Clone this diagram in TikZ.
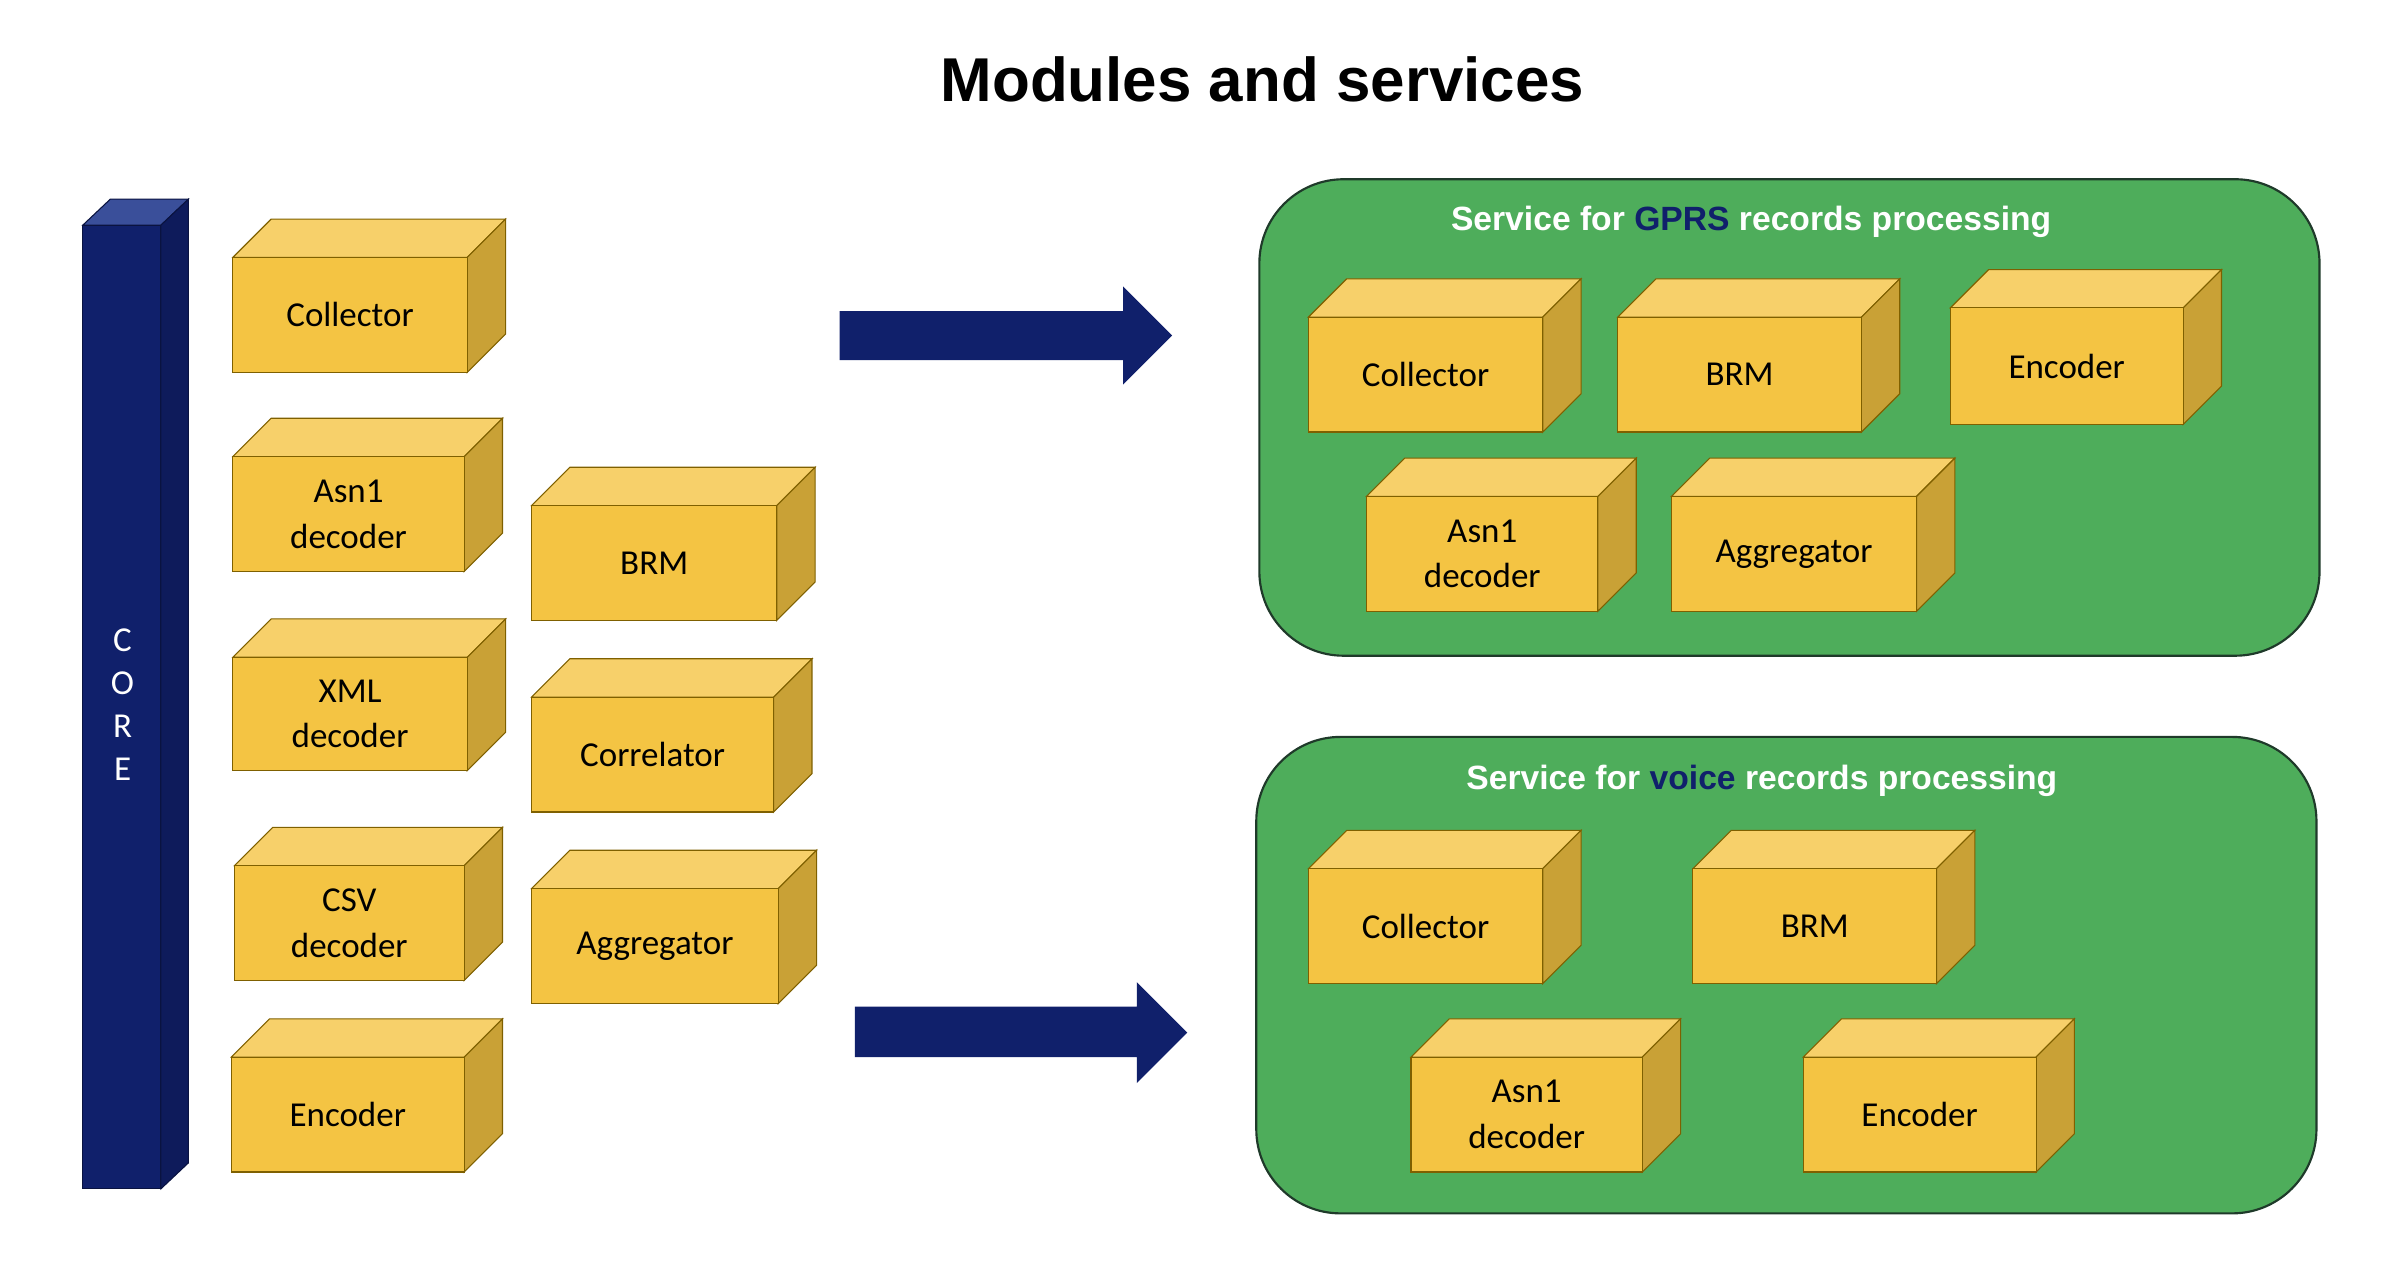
\documentclass[tikz,border=0pt]{standalone}
\usepackage{fontspec}
\setmainfont{Carlito}
\newfontfamily\titlefont{Liberation Sans}
\usetikzlibrary{positioning}
\definecolor{boxfront}{HTML}{F4C443}
\definecolor{boxtop}{HTML}{F7D06A}
\definecolor{boxside}{HTML}{C9A136}
\definecolor{boxline}{HTML}{7F6000}
\definecolor{panelgreen}{HTML}{4EAD5B}
\definecolor{panelline}{HTML}{1F3A2A}
\definecolor{navy}{HTML}{10206B}
\definecolor{navytop}{HTML}{3A4F9A}

% module box: name, x1, y1, x2, y2, text
\newcommand\modbox[6]{%
  \draw[boxline, fill=boxtop] (#2,#3) -- ({#2+25},{#3-25}) -- ({#4+25},{#3-25}) -- (#4,#3) -- cycle;
  \draw[boxline, fill=boxside] (#4,#3) -- ({#4+25},{#3-25}) -- ({#4+25},{#5-25}) -- (#4,#5) -- cycle;
  \draw[boxline, fill=boxfront] (#2,#3) rectangle (#4,#5);
  \node[label] (#1) at ({(#2+#4)/2},{(#3+#5)/2}) {#6};
}

\begin{document}
\begin{tikzpicture}[
    x=0.02cm, y=-0.02cm,
    label/.style={align=center, font=\fontsize{13}{17}\selectfont, inner sep=0pt},
    panel/.style={fill=panelgreen, draw=panelline, thick, rounded corners=1.1cm},
    paneltitle/.style={font=\titlefont\bfseries\fontsize{12.5}{15}\selectfont, text=white},
    blockarrow/.style={fill=navy}
  ]
  \useasboundingbox (0,0) rectangle (1560,834);

  % title
  \node[font=\titlefont\bfseries\fontsize{23}{28}\selectfont] (title) at (824,52) {Modules and services};

  % core pillar
  \draw[navy!60!black, fill=navytop] (54,147) -- (72,130) -- (123,130) -- (105,147) -- cycle;
  \draw[navy!60!black, fill=navy!85!black] (105,147) -- (123,130) -- (123,759) -- (105,776) -- cycle;
  \draw[navy!60!black, fill=navy] (54,147) rectangle (105,776);
  \node[label, text=white, font=\fontsize{13}{16}\selectfont] (core) at (80,460) {C\\O\\R\\E};

  % available modules
  \modbox{collector}{152}{168}{305}{243}{Collector}
  \modbox{asn}{152}{298}{303}{373}{Asn1\\decoder}
  \modbox{xml}{152}{429}{305}{503}{XML\\decoder}
  \modbox{csv}{153}{565}{303}{640}{CSV\\decoder}
  \modbox{encoder}{151}{690}{303}{765}{Encoder}
  \modbox{brm}{347}{330}{507}{405}{BRM}
  \modbox{correlator}{347}{455}{505}{530}{Correlator}
  \modbox{aggregator}{347}{580}{508}{655}{Aggregator}

  % arrows
  \fill[blockarrow] (548,203) -- (733,203) -- (733,187) -- (765,219) -- (733,251) -- (733,235) -- (548,235) -- cycle;
  \fill[blockarrow] (558,657) -- (742,657) -- (742,641) -- (775,674) -- (742,707) -- (742,690) -- (558,690) -- cycle;

  % GPRS service
  \draw[panel] (822,117) rectangle (1514,428);
  \node[paneltitle] (gprstitle) at (1143,145) {Service for \textcolor{navy}{GPRS} records processing};
  \modbox{gcollector}{854}{207}{1007}{282}{Collector}
  \modbox{gbrm}{1056}{207}{1215}{282}{BRM}
  \modbox{gencoder}{1273}{201}{1425}{277}{Encoder}
  \modbox{gasn}{892}{324}{1043}{399}{Asn1\\decoder}
  \modbox{gaggregator}{1091}{324}{1251}{399}{Aggregator}

  % voice service
  \draw[panel] (820,481) rectangle (1512,792);
  \node[paneltitle] (voicetitle) at (1150,510) {Service for \textcolor{navy}{voice} records processing};
  \modbox{vcollector}{854}{567}{1007}{642}{Collector}
  \modbox{vbrm}{1105}{567}{1264}{642}{BRM}
  \modbox{vasn}{921}{690}{1072}{765}{Asn1\\decoder}
  \modbox{vencoder}{1177}{690}{1329}{765}{Encoder}
\end{tikzpicture}
\end{document}
